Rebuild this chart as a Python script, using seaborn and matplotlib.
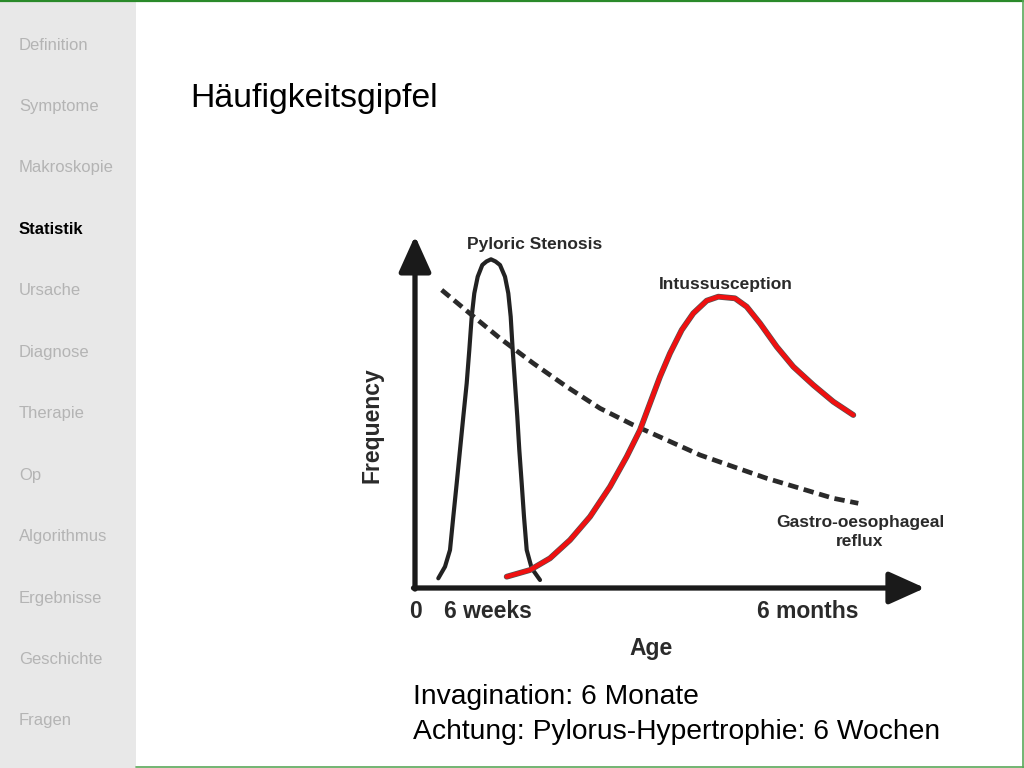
import matplotlib
matplotlib.use("Agg")
import matplotlib.pyplot as plt
from matplotlib.patches import Rectangle
from matplotlib.lines import Line2D
import pandas as pd
import seaborn as sns

# sidebar menu
menu = ["Definition", "Symptome", "Makroskopie", "Statistik", "Ursache", "Diagnose",
        "Therapie", "Op", "Algorithmus", "Ergebnisse", "Geschichte", "Fragen"]
active = "Statistik"

# curves (age in arbitrary units 0..102, frequency 0..100)
pyl_x = [4.66, 6.0, 7.0, 7.66, 8.34, 9.0, 9.66, 10.34, 10.86, 11.34, 11.86, 12.54, 13.46, 14.3,
         15.2, 16.1, 17.0, 18.0, 18.66, 19.14, 19.54, 20.0, 20.46, 20.86, 21.34, 21.8, 22.34, 23.34, 25.0]
pyl_y = [2.77, 6.09, 10.86, 20.37, 29.91, 39.43, 48.94, 58.49, 68.0, 77.51, 84.2, 88.94, 92.29, 93.3,
         93.91, 93.3, 92.29, 88.94, 84.2, 77.51, 68.0, 58.49, 48.94, 39.43, 29.91, 20.37, 10.86, 5.63, 2.29]

ger_x = [5.34, 11.34, 17.0, 23.66, 30.34, 37.0, 43.66, 50.34, 57.0, 63.66, 70.34, 77.0, 83.66, 88.66]
ger_y = [85.14, 78.0, 71.34, 64.2, 57.51, 51.34, 46.57, 42.29, 38.0, 34.66, 31.34, 28.49, 25.63, 24.2]

int_x = [18.34, 23.0, 27.0, 31.0, 35.0, 39.0, 42.34, 45.0, 47.0, 49.0, 51.0, 53.34, 55.66, 58.34,
         60.66, 64.0, 66.34, 69.0, 72.34, 75.66, 79.66, 83.66, 87.66]
int_y = [3.23, 5.14, 8.49, 13.71, 20.37, 28.94, 37.51, 45.14, 52.77, 60.37, 67.06, 73.71, 78.49, 82.09,
         83.23, 82.77, 80.37, 75.63, 68.94, 63.23, 58.0, 53.23, 49.43]

W, H = 1024, 768
sns.set_theme(style="white")
plt.rcParams['font.family'] = ['Liberation Sans', 'DejaVu Sans']

fig = plt.figure(figsize=(10.24, 7.68), dpi=100)
fig.patch.set_facecolor("white")

# sidebar
fig.patches.append(Rectangle((0, 0), 136 / W, 1, transform=fig.transFigure,
                             facecolor="#e8e8e8", edgecolor="none", zorder=0))
for i, item in enumerate(menu):
    yy = 45 + i * 61.45
    if item == active:
        fig.text(19 / W, 1 - yy / H, item, fontsize=12, fontweight="bold",
                 color="black", va="center", ha="left")
    else:
        fig.text(19 / W, 1 - yy / H, item, fontsize=12, color="#b4b4b4",
                 va="center", ha="left")

# green frame
fig.add_artist(Line2D([0, 1], [1 - 1.2 / H, 1 - 1.2 / H], transform=fig.transFigure,
                      color="#2a8a2a", lw=1.6))
fig.add_artist(Line2D([1 - 1.5 / W, 1 - 1.5 / W], [0, 1], transform=fig.transFigure,
                      color="#5aa85a", lw=1.2))
fig.add_artist(Line2D([136 / W, 1], [1.5 / H, 1.5 / H], transform=fig.transFigure,
                      color="#5aa85a", lw=1.2))

# title
fig.text(190 / W, 1 - 98 / H, "Häufigkeitsgipfel", fontsize=24.3, color="black",
         va="center", ha="left")

# chart
ax = fig.add_axes([415 / W, 1 - 588 / H, 510 / W, 350 / H])
ax.set_xlim(0, 102)
ax.set_ylim(0, 100)
ax.set_facecolor("none")
for s in ax.spines.values():
    s.set_visible(False)
ax.set_xticks([])
ax.set_yticks([])

df_pyl = pd.DataFrame({"age": pyl_x, "freq": pyl_y})
df_ger = pd.DataFrame({"age": ger_x, "freq": ger_y})
df_int = pd.DataFrame({"age": int_x, "freq": int_y})

sns.lineplot(data=df_pyl, x="age", y="freq", ax=ax, color="#222222", lw=3,
             solid_capstyle="round", solid_joinstyle="round")
sns.lineplot(data=df_ger, x="age", y="freq", ax=ax, color="#2a2a2a", lw=3.4)
ax.lines[-1].set_dashes([2.2, 1.2])
sns.lineplot(data=df_int, x="age", y="freq", ax=ax, color="#555555", lw=4.2,
             solid_joinstyle="round")
sns.lineplot(data=df_int, x="age", y="freq", ax=ax, color="#f01010", lw=3.2,
             solid_capstyle="round", solid_joinstyle="round")
ax.set_xlabel("")
ax.set_ylabel("")

arrow = dict(arrowstyle="-|>,head_length=1.0,head_width=0.45", lw=3.8,
             color="#1a1a1a", shrinkA=0, shrinkB=0, mutation_scale=22)
ax.annotate("", xy=(0, 100.6), xytext=(0, -0.3), arrowprops=arrow, annotation_clip=False)
ax.annotate("", xy=(102, 0), xytext=(-0.3, 0), arrowprops=arrow, annotation_clip=False)

lab = dict(fontweight="bold", color="#2a2a2a", va="center", ha="center")
fig.text(535 / W, 1 - 245 / H, "Pyloric Stenosis", fontsize=12.5, **lab)
fig.text(726 / W, 1 - 284 / H, "Intussusception", fontsize=12.5, **lab)
fig.text(860 / W, 1 - 532 / H, "Gastro-oesophageal\nreflux", fontsize=12.5,
         linespacing=1.25, multialignment="center", **lab)
fig.text(372 / W, 1 - 425 / H, "Frequency", fontsize=16.5, rotation=90, **lab)
fig.text(415 / W, 1 - 611 / H, "0", fontsize=16.5, **lab)
fig.text(488 / W, 1 - 611 / H, "6 weeks", fontsize=16.5, **lab)
fig.text(808 / W, 1 - 611 / H, "6 months", fontsize=16.5, **lab)
fig.text(651 / W, 1 - 648 / H, "Age", fontsize=16.5, **lab)

# notes
fig.text(413 / W, 1 - 697 / H, "Invagination: 6 Monate", fontsize=20.3,
         color="black", va="center", ha="left")
fig.text(413 / W, 1 - 732 / H, "Achtung: Pylorus-Hypertrophie: 6 Wochen", fontsize=20.3,
         color="black", va="center", ha="left")

fig.savefig("out.png", dpi=100)
